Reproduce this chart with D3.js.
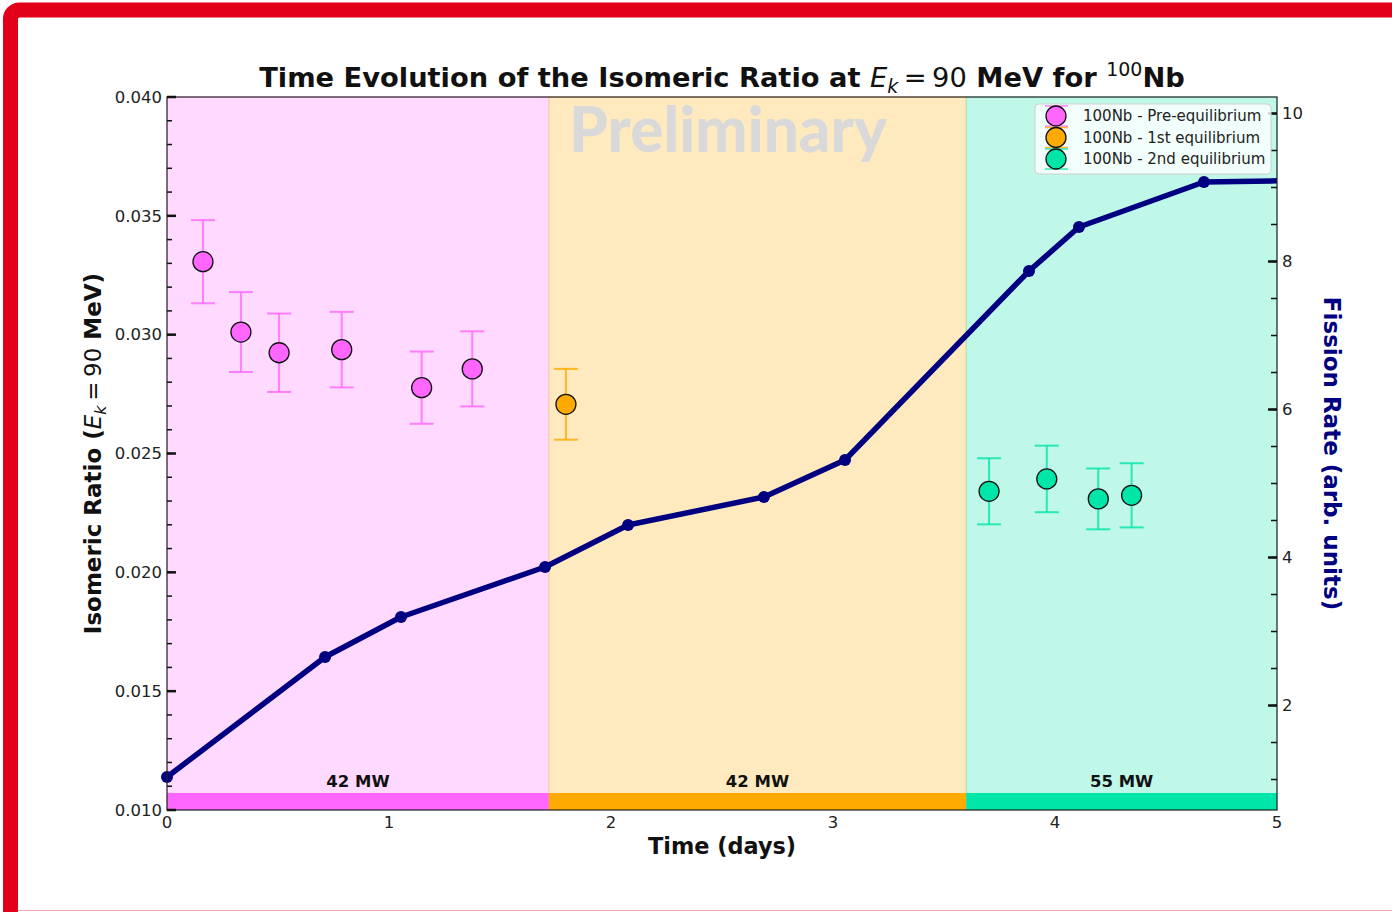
<!DOCTYPE html>
<html>
<head>
<meta charset="utf-8">
<script src="https://cdn.jsdelivr.net/npm/d3@7"></script>
<style>
  html, body { margin: 0; padding: 0; background: #fff; }
  svg { display: block; font-family: "DejaVu Sans", sans-serif; }
</style>
</head>
<body>
<svg id="chart" width="1392" height="912"></svg>
<script>
// ---- data ----
const fissionDays = [0, 0.712, 1.054, 1.703, 2.077, 2.689, 3.054, 3.883, 4.108, 4.671, 5.3];
const fissionRate = [1.034, 2.655, 3.196, 3.872, 4.439, 4.818, 5.318, 7.872, 8.466, 9.074, 9.105];

const preDays  = [0.162, 0.333, 0.505, 0.787, 1.147, 1.375];
const preRatio = [0.03307, 0.03011, 0.02924, 0.02937, 0.02777, 0.02856];
const preErr   = [0.00175, 0.00168, 0.00165, 0.00159, 0.00152, 0.00158];

const eq1Days  = [1.797];
const eq1Ratio = [0.02707];
const eq1Err   = [0.00149];

const eq2Days  = [3.703, 3.963, 4.195, 4.345];
const eq2Ratio = [0.02341, 0.02393, 0.02309, 0.02324];
const eq2Err   = [0.00139, 0.00140, 0.00128, 0.00135];

const phaseStart  = [0, 1.72, 3.6];
const phaseEnd    = [1.72, 3.6, 5];
const phaseColors = ["#ff66ff", "#ffaa00", "#00e5a8"];
const powerLabels = ["42 MW", "42 MW", "55 MW"];

const seriesNames = ["100Nb - Pre-equilibrium", "100Nb - 1st equilibrium", "100Nb - 2nd equilibrium"];

const xTicks      = [0, 1, 2, 3, 4, 5];
const leftTicks   = [0.010, 0.015, 0.020, 0.025, 0.030, 0.035, 0.040];
const rightTicks  = [2, 4, 6, 8, 10];

// ---- layout ----
const svg = d3.select("#chart");
const L = 167, R = 1277, T = 97, B = 810;

// red frame around the page
svg.append("rect")
  .attr("x", 10.5).attr("y", 10).attr("width", 1500).attr("height", 1100)
  .attr("rx", 9).attr("fill", "none")
  .attr("stroke", "#e2001a").attr("stroke-width", 15);
svg.append("line")
  .attr("x1", 18).attr("x2", 1392).attr("y1", 910.5).attr("y2", 910.5)
  .attr("stroke", "#f2a6b0").attr("stroke-width", 1);

const x = d3.scaleLinear().domain([0, 5]).range([L, R]);
const yL = d3.scaleLinear().domain([0.010, 0.040]).range([B, T]);
const yR = d3.scaleLinear().domain([0.588, 10.223]).range([B, T]);

const defs = svg.append("defs");
defs.append("clipPath").attr("id", "plotClip")
  .append("rect").attr("x", L - 12).attr("y", T - 12)
  .attr("width", R - L + 12).attr("height", B - T + 24);

// phase backgrounds
const phases = phaseStart.map((s, i) => ({ s, e: phaseEnd[i], c: phaseColors[i], lab: powerLabels[i] }));
svg.append("g").selectAll("rect").data(phases).join("rect")
  .attr("x", d => x(d.s)).attr("y", T)
  .attr("width", d => x(d.e) - x(d.s)).attr("height", B - T)
  .attr("fill", d => d.c).attr("fill-opacity", 0.25)
  .attr("stroke", d => d.c).attr("stroke-opacity", 0.25).attr("stroke-width", 1);

// power bands along the bottom
const bandH = 17;
svg.append("g").selectAll("rect").data(phases).join("rect")
  .attr("x", d => x(d.s)).attr("y", yL(0.010) - bandH)
  .attr("width", d => x(d.e) - x(d.s)).attr("height", bandH)
  .attr("fill", d => d.c);
svg.append("g").selectAll("text").data(phases).join("text")
  .attr("x", d => x((d.s + d.e) / 2)).attr("y", yL(0.010) - bandH - 6)
  .attr("text-anchor", "middle").attr("font-size", 16.5).attr("font-weight", "bold")
  .attr("fill", "#111").text(d => d.lab);

// watermark
svg.append("text")
  .attr("x", 728).attr("y", 152).attr("text-anchor", "middle")
  .attr("font-family", "Lato, 'Open Sans', sans-serif").attr("font-weight", 900)
  .attr("font-size", 62).attr("fill", "#d9d9d9")
  .text("Preliminary");

// fission-rate line
const lineData = fissionDays.map((d, i) => ({ d, v: fissionRate[i] }));
const gLine = svg.append("g").attr("clip-path", "url(#plotClip)");
gLine.append("path").datum(lineData)
  .attr("d", d3.line().x(p => x(p.d)).y(p => yR(p.v)))
  .attr("fill", "none").attr("stroke", "#000080").attr("stroke-width", 5.5)
  .attr("stroke-linejoin", "round");
gLine.selectAll("circle").data(lineData).join("circle")
  .attr("cx", p => x(p.d)).attr("cy", p => yR(p.v)).attr("r", 6)
  .attr("fill", "#000080");

// error-bar series
function drawSeries(days, ratio, err, color) {
  const pts = days.map((d, i) => ({ d, v: ratio[i], e: err[i] }));
  const g = svg.append("g");
  const cap = 12;
  g.selectAll("line.stem").data(pts).join("line").attr("class", "stem")
    .attr("x1", p => x(p.d)).attr("x2", p => x(p.d))
    .attr("y1", p => yL(p.v + p.e)).attr("y2", p => yL(p.v - p.e))
    .attr("stroke", color).attr("stroke-opacity", 0.8).attr("stroke-width", 2);
  ["+", "-"].forEach(sign => {
    g.selectAll("line.cap" + (sign === "+" ? "t" : "b")).data(pts).join("line")
      .attr("class", "cap" + (sign === "+" ? "t" : "b"))
      .attr("x1", p => x(p.d) - cap).attr("x2", p => x(p.d) + cap)
      .attr("y1", p => yL(sign === "+" ? p.v + p.e : p.v - p.e))
      .attr("y2", p => yL(sign === "+" ? p.v + p.e : p.v - p.e))
      .attr("stroke", color).attr("stroke-opacity", 0.8).attr("stroke-width", 2);
  });
  g.selectAll("circle").data(pts).join("circle")
    .attr("cx", p => x(p.d)).attr("cy", p => yL(p.v)).attr("r", 10)
    .attr("fill", color).attr("stroke", "#111").attr("stroke-width", 1.3);
}
drawSeries(preDays, preRatio, preErr, phaseColors[0]);
drawSeries(eq1Days, eq1Ratio, eq1Err, phaseColors[1]);
drawSeries(eq2Days, eq2Ratio, eq2Err, phaseColors[2]);

// frame
svg.append("rect").attr("x", L).attr("y", T).attr("width", R - L).attr("height", B - T)
  .attr("fill", "none").attr("stroke", "#222").attr("stroke-width", 1.2);

// left axis
const leftMinor = d3.range(0.010, 0.0405, 0.001);
const gl = svg.append("g");
gl.selectAll("line.mn").data(leftMinor).join("line").attr("class", "mn")
  .attr("x1", L).attr("x2", L + 5).attr("y1", d => yL(d)).attr("y2", d => yL(d))
  .attr("stroke", "#111").attr("stroke-width", 1.5);
gl.selectAll("line.mj").data(leftTicks).join("line").attr("class", "mj")
  .attr("x1", L).attr("x2", L + 9).attr("y1", d => yL(d)).attr("y2", d => yL(d))
  .attr("stroke", "#111").attr("stroke-width", 2.5);
gl.selectAll("text").data(leftTicks).join("text")
  .attr("x", L - 5).attr("y", d => yL(d)).attr("dy", "0.35em")
  .attr("text-anchor", "end").attr("font-size", 16.5).attr("fill", "#222")
  .text(d3.format(".3f"));

// right axis
const rightMinor = d3.range(1, 10.01, 0.5);
const gr = svg.append("g");
gr.selectAll("line.mn").data(rightMinor).join("line").attr("class", "mn")
  .attr("x1", R - 6).attr("x2", R).attr("y1", d => yR(d)).attr("y2", d => yR(d))
  .attr("stroke", "#111").attr("stroke-width", 1.5);
gr.selectAll("line.mj").data(rightTicks).join("line").attr("class", "mj")
  .attr("x1", R - 9).attr("x2", R).attr("y1", d => yR(d)).attr("y2", d => yR(d))
  .attr("stroke", "#111").attr("stroke-width", 2.5);
gr.selectAll("text").data(rightTicks).join("text")
  .attr("x", R + 5).attr("y", d => yR(d)).attr("dy", "0.35em")
  .attr("text-anchor", "start").attr("font-size", 16.5).attr("fill", "#222")
  .text(d => d);

// bottom axis labels
svg.append("g").selectAll("text").data(xTicks).join("text")
  .attr("x", d => x(d)).attr("y", B + 12).attr("dy", "0.35em")
  .attr("text-anchor", "middle").attr("font-size", 16.5).attr("fill", "#222")
  .text(d => d);

// axis titles
svg.append("text").attr("x", (L + R) / 2).attr("y", 854)
  .attr("text-anchor", "middle").attr("font-size", 22.4).attr("font-weight", "bold")
  .attr("fill", "#111").text("Time (days)");

const yl = svg.append("text")
  .attr("transform", `translate(101,${(T + B) / 2}) rotate(-90)`)
  .attr("text-anchor", "middle").attr("font-size", 23).attr("fill", "#111");
yl.append("tspan").attr("font-weight", "bold").text("Isomeric Ratio (");
yl.append("tspan").attr("font-style", "italic").text("E");
yl.append("tspan").attr("font-style", "italic").attr("font-size", 16).attr("dy", 5).text("k");
yl.append("tspan").attr("dy", -5).text("\u2009=\u200990");
yl.append("tspan").attr("font-weight", "bold").text(" MeV)");

svg.append("text")
  .attr("transform", `translate(1324,${(T + B) / 2}) rotate(90)`)
  .attr("text-anchor", "middle").attr("font-size", 23).attr("font-weight", "bold")
  .attr("fill", "#000080").text("Fission Rate (arb. units)");

// title
const tt = svg.append("text").attr("x", 722).attr("y", 87)
  .attr("text-anchor", "middle").attr("font-size", 27.3).attr("fill", "#111");
tt.append("tspan").attr("font-weight", "bold").text("Time Evolution of the Isomeric Ratio at ");
tt.append("tspan").attr("font-style", "italic").text("E");
tt.append("tspan").attr("font-style", "italic").attr("font-size", 19).attr("dy", 6).text("k");
tt.append("tspan").attr("dy", -6).text("\u2009=\u200990");
tt.append("tspan").attr("font-weight", "bold").text(" MeV for ");
tt.append("tspan").attr("font-size", 19).attr("dy", -11).text("100");
tt.append("tspan").attr("font-weight", "bold").attr("dy", 11).text("Nb");

// legend
const lg = svg.append("g");
lg.append("rect").attr("x", 1035).attr("y", 104).attr("width", 236).attr("height", 70)
  .attr("rx", 4).attr("fill", "#fff").attr("fill-opacity", 0.8)
  .attr("stroke", "#d0d0d0").attr("stroke-width", 1);
seriesNames.forEach((name, i) => {
  const cy = 116 + i * 21.5;
  const c = phaseColors[i];
  [cy - 10, cy + 10].forEach(yy => {
    lg.append("line").attr("x1", 1045).attr("x2", 1068).attr("y1", yy).attr("y2", yy)
      .attr("stroke", c).attr("stroke-opacity", 0.8).attr("stroke-width", 1.5);
  });
  lg.append("circle").attr("cx", 1056).attr("cy", cy).attr("r", 10)
    .attr("fill", c).attr("stroke", "#111").attr("stroke-width", 1.3);
  lg.append("text").attr("x", 1083).attr("y", cy).attr("dy", "0.35em")
    .attr("font-size", 15).attr("fill", "#222").text(name);
});
</script>
</body>
</html>
